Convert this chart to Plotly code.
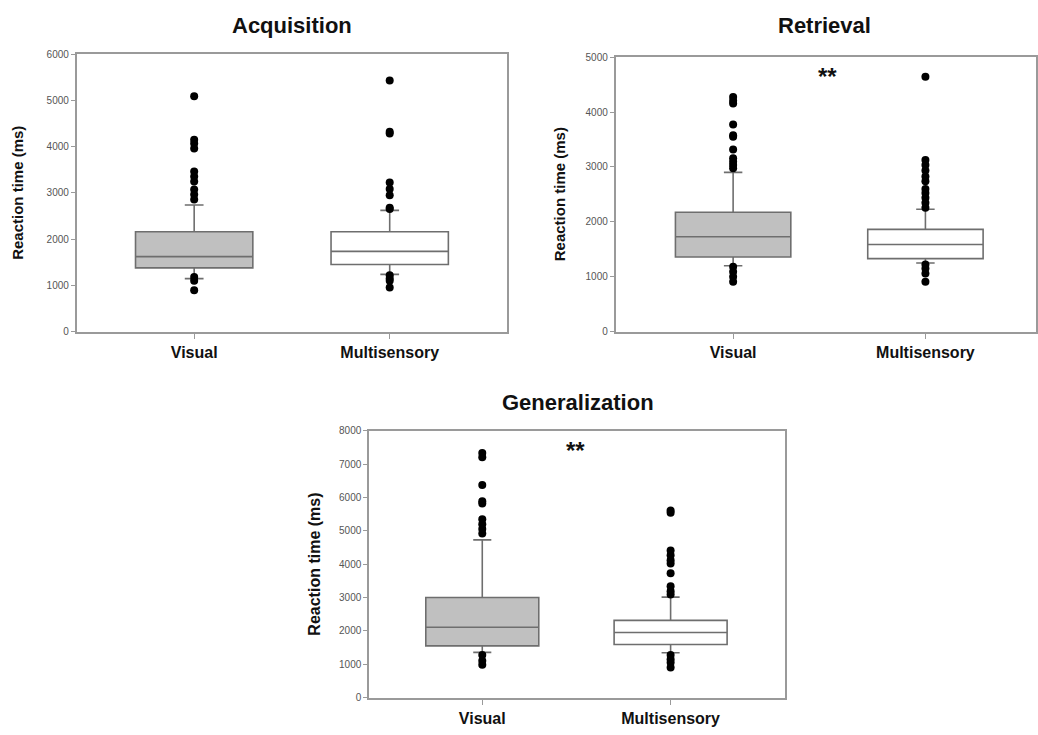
import plotly.graph_objects as go

categories = ["Visual", "Multisensory"]
panel_titles = ["Acquisition", "Retrieval", "Generalization"]
y_max = [6000, 5000, 8000]

# box statistics per panel: [Visual, Multisensory]
q1 = [[1379, 1450], [1359, 1329], [1551, 1590]]
median = [[1621, 1735], [1728, 1587], [2110, 1953]]
q3 = [[2161, 2161], [2175, 1862], [3003, 2316]]
lower_whisker = [[1145, 1237], [1200, 1251], [1354, 1344]]
upper_whisker = [[2737, 2623], [2900, 2228], [4730, 3013]]

acq_visual_out = [5090, 4151, 4066, 3960, 3462, 3355, 3249, 3071, 2964, 2858, 1180, 1100, 895]
acq_multi_out = [5431, 4320, 4285, 3227, 3085, 2950, 2680, 2650, 1220, 1150, 1100, 955]
ret_visual_out = [4275, 4204, 4156, 3772, 3575, 3550, 3317, 3156, 3096, 3036, 2976, 1180, 1090, 1000, 910]
ret_multi_out = [4641, 3126, 3036, 2934, 2826, 2737, 2599, 2527, 2437, 2347, 2257, 1222, 1150, 1060, 910]
gen_visual_out = [7340, 7213, 6379, 5888, 5820, 5348, 5201, 5054, 4926, 1276, 1100, 981]
gen_multi_out = [5613, 5545, 4416, 4269, 4122, 4024, 3729, 3337, 3189, 3091, 1276, 1150, 1050, 900]
outliers = [[acq_visual_out, acq_multi_out], [ret_visual_out, ret_multi_out], [gen_visual_out, gen_multi_out]]
significance = ["", "**", "**"]

W, H = 1038, 735
FONT = "Arial, Liberation Sans, sans-serif"
fills = ["#c0c0c0", "#ffffff"]
LINE = "#6e6e6e"
AX = "#9a9a9a"

# pixel geometry of each panel: (left, right, top, bottom), x range
geo = [(77, 508, 49, 331), (617, 1038, 52, 331), (370, 787, 432, 703)]
xr = [[0.4, 2.6], [0.39, 2.575], [0.4, 2.61]]
title_pos = [(293, 20), (826, 20), (579, 403)]
ytitle_x = [18, 560, 315]
star_pos = [None, (829, 72), (577, 452)]

fig = go.Figure()
for p in range(3):
    xa = "x" if p == 0 else f"x{p+1}"
    ya = "y" if p == 0 else f"y{p+1}"
    for c in range(2):
        fig.add_trace(go.Box(
            x=[c + 1], q1=[q1[p][c]], median=[median[p][c]], q3=[q3[p][c]],
            lowerfence=[lower_whisker[p][c]], upperfence=[upper_whisker[p][c]],
            width=0.6, whiskerwidth=0.16, fillcolor=fills[c],
            line=dict(color=LINE, width=1.6), boxpoints=False,
            xaxis=xa, yaxis=ya, showlegend=False, hoverinfo="skip"))
        fig.add_trace(go.Scatter(
            x=[c + 1] * len(outliers[p][c]), y=outliers[p][c], mode="markers",
            marker=dict(color="black", size=8), xaxis=xa, yaxis=ya,
            showlegend=False, hoverinfo="skip"))

layout = dict(width=W, height=H, margin=dict(l=0, r=0, t=0, b=0),
              paper_bgcolor="white", plot_bgcolor="white",
              font=dict(family=FONT), annotations=[])
for p in range(3):
    l, r, t, b = geo[p]
    sfx = "" if p == 0 else str(p + 1)
    layout["xaxis" + sfx] = dict(
        domain=[l / W, r / W], range=xr[p], tickvals=[1, 2], ticktext=categories,
        showline=True, mirror=True, linecolor=AX, linewidth=2, showgrid=False,
        zeroline=False, ticks="outside", ticklen=5, tickcolor=AX,
        tickfont=dict(size=16, color="#111", family=FONT, weight="bold"),
        anchor="y" + sfx, fixedrange=True)
    layout["yaxis" + sfx] = dict(
        domain=[1 - b / H, 1 - t / H], range=[0, y_max[p]], dtick=1000,
        showline=True, mirror=True, linecolor=AX, linewidth=2, showgrid=False,
        zeroline=False, ticks="outside", ticklen=4, tickcolor=AX,
        tickfont=dict(size=10, color="#555", family=FONT),
        anchor="x" + sfx, fixedrange=True)
    tx, ty = title_pos[p]
    layout["annotations"].append(dict(
        text=panel_titles[p], x=tx / W, y=1 - ty / H, xref="paper", yref="paper",
        showarrow=False, xanchor="center", yanchor="middle",
        font=dict(size=22, color="#111", family=FONT, weight="bold")))
    layout["annotations"].append(dict(
        text="Reaction time (ms)", x=ytitle_x[p] / W, y=1 - (t + b) / 2 / H,
        xref="paper", yref="paper", showarrow=False, textangle=-90,
        xanchor="center", yanchor="middle",
        font=dict(size=15 if p < 2 else 16, color="#111", family=FONT, weight="bold")))
    if star_pos[p] is not None:
        sx, sy = star_pos[p]
        layout["annotations"].append(dict(
            text=significance[p], x=sx / W, y=1 - sy / H, xref="paper", yref="paper",
            showarrow=False, xanchor="center", yanchor="middle",
            font=dict(size=24, color="#111", family=FONT, weight="bold")))

fig.update_layout(**layout)
fig.write_html(
    "out.html",
    config={"displayModeBar": False},
    post_script="document.body.style.margin='0';document.body.style.padding='0';"
                "document.documentElement.style.overflow='hidden';",
)
